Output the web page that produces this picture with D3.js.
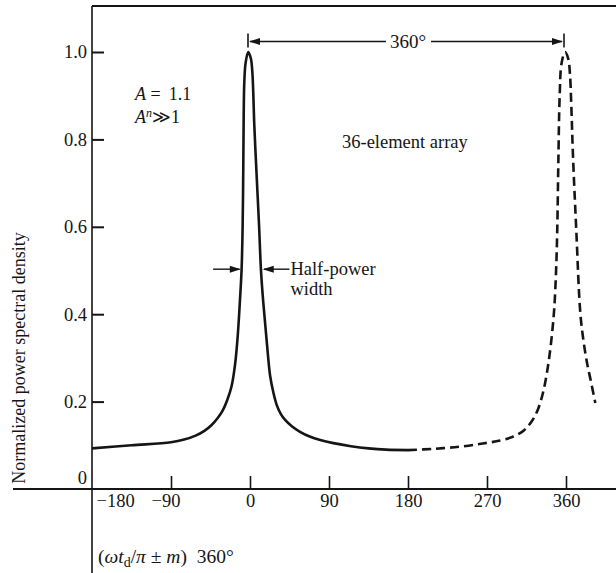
<!DOCTYPE html>
<html>
<head>
<meta charset="utf-8">
<script src="https://cdn.jsdelivr.net/npm/d3@7"></script>
<style>
body { margin: 0; background: #fff; }
svg { font-family: "Liberation Serif", "DejaVu Serif", serif; }
</style>
</head>
<body>
<svg id="chart" width="616" height="573"></svg>
<script>
// curve values (phase in degrees, normalized power)
var solidDeg = [-180, -135, -90, -75, -62, -52, -44, -37, -31, -26, -21, -17, -14, -11.5, -9.6, -8.4, -7.6, -7.2, -6.5, -5, -2, 1, 2.8, 4.9, 7.5, 10.3, 12.5, 15, 17.9, 20.5, 23, 26.5, 30.5, 35, 40, 48, 57, 68, 80, 95, 115, 135, 155, 180];
var solidVal = [0.093, 0.100, 0.107, 0.113, 0.122, 0.133, 0.146, 0.162, 0.180, 0.203, 0.235, 0.285, 0.350, 0.430, 0.501, 0.600, 0.750, 0.850, 0.930, 0.975, 1.000, 0.985, 0.950, 0.833, 0.720, 0.604, 0.501, 0.430, 0.364, 0.305, 0.258, 0.222, 0.192, 0.172, 0.158, 0.143, 0.131, 0.120, 0.112, 0.105, 0.098, 0.093, 0.090, 0.089];

var dashedDeg = [180, 210, 240, 265, 285, 300, 312, 321, 328, 334, 339, 343, 346.5, 348.7, 350, 351.3, 352.8, 355, 359, 362.5, 364.5, 366, 368, 371.7, 376.3, 380, 384, 388, 393.4];
var dashedVal = [0.089, 0.092, 0.097, 0.104, 0.111, 0.120, 0.134, 0.155, 0.182, 0.222, 0.275, 0.335, 0.410, 0.500, 0.590, 0.750, 0.900, 0.975, 1.000, 0.985, 0.950, 0.880, 0.760, 0.593, 0.403, 0.338, 0.288, 0.250, 0.197];

var xTicks = [-180, -90, 0, 90, 180, 270, 360];
var xTickLabels = ["\u2212180", "\u221290", "0", "90", "180", "270", "360"];
var yTicks = [0, 0.2, 0.4, 0.6, 0.8, 1.0];
var yTickLabels = ["0", "0.2", "0.4", "0.6", "0.8", "1.0"];

var halfPower = 0.503;   // level of the half-power arrows
var periodLevel = 1.024; // level of the 360° dimension line

var ink = "#151515";
var fs = 18.5;
var svg = d3.select("#chart");

var x = d3.scaleLinear().domain([-180, 360]).range([92, 566]);
var y = d3.scaleLinear().domain([0, 1]).range([489, 52]);

svg.append("rect").attr("width", 616).attr("height", 573).attr("fill", "#fff");

// frame: top rule, y axis line, zero line
svg.append("line").attr("x1", x(-180)).attr("x2", 616).attr("y1", 6).attr("y2", 6)
	.attr("stroke", ink).attr("stroke-width", 2);
svg.append("line").attr("x1", x(-180)).attr("x2", x(-180)).attr("y1", 6).attr("y2", 573)
	.attr("stroke", ink).attr("stroke-width", 1.6);
svg.append("line").attr("x1", 13).attr("x2", 616).attr("y1", y(0)).attr("y2", y(0))
	.attr("stroke", ink).attr("stroke-width", 1.8);

// y axis ticks, pointing inwards
var yAxis = d3.axisLeft(y)
	.tickValues(yTicks)
	.tickSize(-12)
	.tickSizeOuter(0)
	.tickPadding(5)
	.tickFormat(function(d, i) { return yTickLabels[i]; });

var gy = svg.append("g")
	.attr("transform", "translate(" + x(-180) + ",0)")
	.call(yAxis);
gy.select(".domain").remove();
gy.attr("font-family", null).attr("font-size", null);
gy.selectAll(".tick line").attr("stroke", ink).attr("stroke-width", 2)
	.filter(function(d) { return d === 0; }).remove();
gy.selectAll(".tick text").attr("fill", ink).attr("font-size", fs)
	.filter(function(d) { return d === 0; }).attr("dy", "-0.3em");

// x axis ticks, pointing up
var xAxis = d3.axisBottom(x)
	.tickValues(xTicks)
	.tickSize(-13)
	.tickSizeOuter(0)
	.tickPadding(5)
	.tickFormat(function(d, i) { return xTickLabels[i]; });

var gx = svg.append("g")
	.attr("transform", "translate(0," + y(0) + ")")
	.call(xAxis);
gx.select(".domain").remove();
gx.attr("font-family", null).attr("font-size", null);
gx.selectAll(".tick line").attr("stroke", ink).attr("stroke-width", 1.6)
	.filter(function(d) { return d === -180; }).remove();
gx.selectAll(".tick text").attr("fill", ink).attr("font-size", fs);
gx.selectAll(".tick text").filter(function(d) { return d === -180; })
	.attr("text-anchor", "start").attr("x", 4);
gx.selectAll(".tick text").filter(function(d) { return d === -90; })
	.attr("dx", "-0.3em");

// curves
var line = d3.line()
	.x(function(d) { return x(d[0]); })
	.y(function(d) { return y(d[1]); })
	.curve(d3.curveCatmullRom.alpha(0.5));

svg.append("path")
	.datum(d3.zip(solidDeg, solidVal))
	.attr("d", line)
	.attr("fill", "none")
	.attr("stroke", ink)
	.attr("stroke-width", 2.6)
	.attr("stroke-linejoin", "round");

svg.append("path")
	.datum(d3.zip(dashedDeg, dashedVal))
	.attr("d", line)
	.attr("fill", "none")
	.attr("stroke", ink)
	.attr("stroke-width", 2.6)
	.attr("stroke-dasharray", "9,5");

// arrow helper: filled head at (tx, ty) pointing in direction dir (+1 right, -1 left)
function arrowHead(tx, ty, dir) {
	var len = 11, half = 3.5;
	svg.append("path")
		.attr("d", "M" + tx + "," + ty + "L" + (tx - dir * len) + "," + (ty - half) +
			"L" + (tx - dir * len) + "," + (ty + half) + "Z")
		.attr("fill", ink);
}

// 360° period dimension
var py = y(periodLevel);
[0, 360].forEach(function(d) {
	svg.append("line").attr("x1", x(d) - 2).attr("x2", x(d) - 2)
		.attr("y1", py - 8).attr("y2", py + 6)
		.attr("stroke", ink).attr("stroke-width", 1.6);
});
svg.append("line").attr("x1", x(0)).attr("x2", x(180) - 22).attr("y1", py).attr("y2", py)
	.attr("stroke", ink).attr("stroke-width", 1.4);
svg.append("line").attr("x1", x(180) + 23).attr("x2", x(360) - 4).attr("y1", py).attr("y2", py)
	.attr("stroke", ink).attr("stroke-width", 1.4);
arrowHead(x(0) - 1, py, -1);
arrowHead(x(360) - 3, py, 1);
svg.append("text").attr("x", x(180)).attr("y", py + 6)
	.attr("text-anchor", "middle").attr("font-size", fs + 0.5).attr("fill", ink)
	.text("360\u00b0");

// half-power width arrows
var hy = y(halfPower);
svg.append("line").attr("x1", x(-42)).attr("x2", x(-12)).attr("y1", hy).attr("y2", hy)
	.attr("stroke", ink).attr("stroke-width", 1.4);
arrowHead(x(-10.5), hy, 1);
svg.append("line").attr("x1", x(16)).attr("x2", x(45)).attr("y1", hy).attr("y2", hy)
	.attr("stroke", ink).attr("stroke-width", 1.4);
arrowHead(x(14.5), hy, -1);
svg.append("text").attr("x", x(46)).attr("y", hy + 6)
	.attr("font-size", fs).attr("fill", ink).text("Half-power");
svg.append("text").attr("x", x(46)).attr("y", hy + 26)
	.attr("font-size", fs).attr("fill", ink).text("width");

// A = 1.1, A^n >> 1
var t1 = svg.append("text").attr("x", 135).attr("y", 100).attr("font-size", 18).attr("fill", ink)
	.attr("xml:space", "preserve");
t1.append("tspan").attr("font-style", "italic").text("A");
t1.append("tspan").text(" =\u2009 1.1");
var t2 = svg.append("text").attr("x", 135).attr("y", 123).attr("font-size", 18).attr("fill", ink);
t2.append("tspan").attr("font-style", "italic").text("A");
t2.append("tspan").attr("font-style", "italic").attr("font-size", 12).attr("dy", -6).text("n");
t2.append("tspan").attr("dy", 6).text("\u226b1");

svg.append("text").attr("x", 342).attr("y", 148)
	.attr("font-size", fs).attr("fill", ink).text("36-element array");

// axis titles
svg.append("text")
	.attr("transform", "translate(25,358) rotate(-90)")
	.attr("text-anchor", "middle")
	.attr("font-size", 18).attr("fill", ink)
	.text("Normalized power spectral density");

var xt = svg.append("text").attr("x", 98).attr("y", 563).attr("font-size", fs + 1).attr("fill", ink)
	.attr("xml:space", "preserve");
xt.append("tspan").text("(");
xt.append("tspan").attr("font-style", "italic").text("\u03c9t");
xt.append("tspan").attr("font-size", 14).attr("dy", 4).text("d");
xt.append("tspan").attr("dy", -4).text("/");
xt.append("tspan").attr("font-style", "italic").text("\u03c0");
xt.append("tspan").text(" \u00b1 ");
xt.append("tspan").attr("font-style", "italic").text("m");
xt.append("tspan").text(")  360\u00b0");
</script>
</body>
</html>
